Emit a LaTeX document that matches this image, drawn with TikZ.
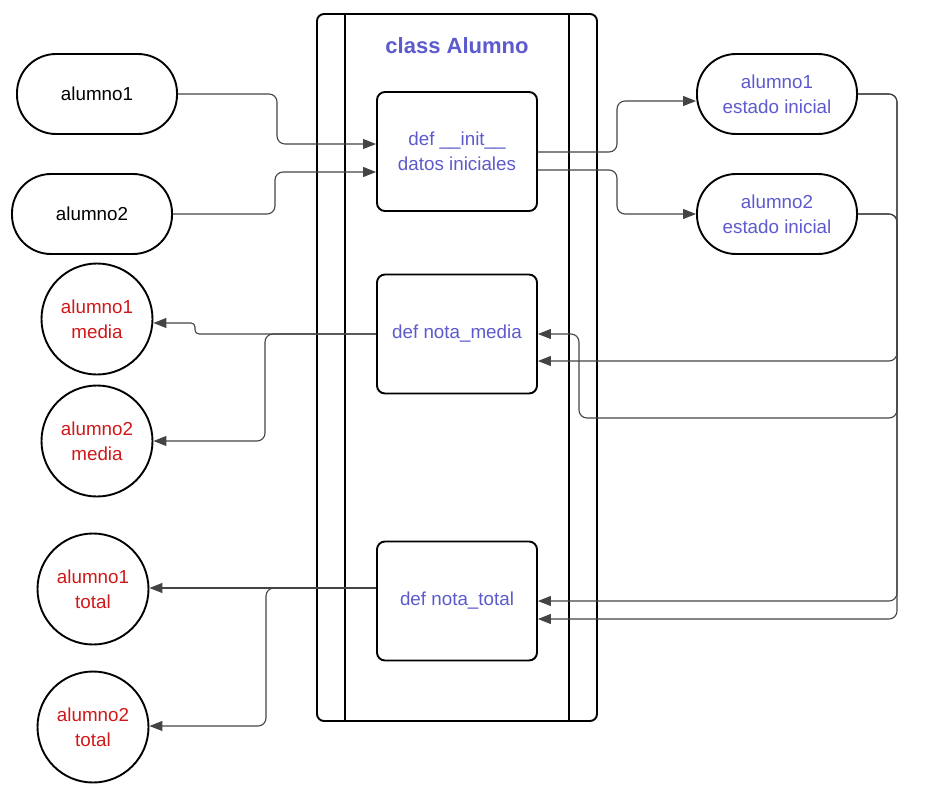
\documentclass[tikz,border=0pt]{standalone}
\usepackage{fontspec}
\setmainfont{Liberation Sans}
\usetikzlibrary{arrows.meta}
\definecolor{violet}{RGB}{92,90,205}
\definecolor{redtxt}{RGB}{208,24,24}
\definecolor{conncol}{RGB}{68,68,68}
\tikzset{
  base/.style={draw=black, line width=1.9pt, font=\fontsize{18.8}{25}\selectfont, align=center, inner sep=0pt},
  stadium/.style={base, minimum width=160pt, minimum height=80pt, rounded corners=39pt},
  funcbox/.style={base, minimum width=160pt, minimum height=119pt, rounded corners=8pt, text=violet},
  outcirc/.style={base, circle, minimum size=111pt, text=redtxt},
  conn/.style={draw=conncol, line width=1.1pt, rounded corners=8pt, -{Triangle[length=13pt,width=10pt]}},
}
\begin{document}
\begin{tikzpicture}[x=1pt,y=-1pt]
\useasboundingbox (0,0) rectangle (929,804);
% class container
\draw[line width=1.9pt, rounded corners=7pt] (317,14) rectangle (597,721);
\draw[line width=1.9pt] (345,14) -- (345,721);
\draw[line width=1.9pt] (569,14) -- (569,721);
\node[font=\bfseries\fontsize{22}{26}\selectfont, text=violet] (title) at (457,46) {class Alumno};
% nodes
\node[stadium] (a1) at (97,94) {alumno1};
\node[stadium] (a2) at (92,214) {alumno2};
\node[funcbox] (init) at (457,151.5) {def \_\_init\_\_\\datos iniciales};
\node[funcbox] (nm) at (457,334) {def nota\_media};
\node[funcbox] (nt) at (457,601) {def nota\_total};
\node[stadium, text=violet] (e1) at (777,94) {alumno1\\estado inicial};
\node[stadium, text=violet] (e2) at (777,214) {alumno2\\estado inicial};
\node[outcirc] (m1) at (97,319) {alumno1\\media};
\node[outcirc] (m2) at (97,441) {alumno2\\media};
\node[outcirc] (t1) at (93,589) {alumno1\\total};
\node[outcirc] (t2) at (93,727) {alumno2\\total};
% inputs to __init__
\draw[conn] (a1.east) -- (277,94) |- ([yshift=7.5pt]init.west);
\draw[conn] (a2.east) -- (275,214) |- ([yshift=-20.5pt]init.west);
% __init__ to states
\draw[conn] ([yshift=-0.5pt]init.east) -- (617,152) |- ([yshift=-7pt]e1.west);
\draw[conn] ([yshift=-18.5pt]init.east) -- (617,170) |- (e2.west);
% states to nota_media / nota_total
\draw[conn] (e1.east) -- (897,94) |- ([yshift=-27pt]nm.east);
\draw[conn] (e2.east) -- (897,214) -- (897,418) -- (579,418) |- (nm.east);
\draw[conn] (e1.east) -- (897,94) |- (nt.east);
\draw[conn] (e2.east) -- (897,214) |- ([yshift=-18pt]nt.east);
% nota_media outputs
\draw[conn, rounded corners=4pt] (nm.west) -- (195,334) -- (195,323) -- ([yshift=-4pt]m1.east);
\draw[conn] (nm.west) -- (265,334) |- (m2.east);
% nota_total outputs
\draw[conn] ([yshift=13pt]nt.west) -- ([yshift=1pt]t1.east);
\draw[conn] ([yshift=13pt]nt.west) -- (266,588) |- ([yshift=1pt]t2.east);
\end{tikzpicture}
\end{document}
